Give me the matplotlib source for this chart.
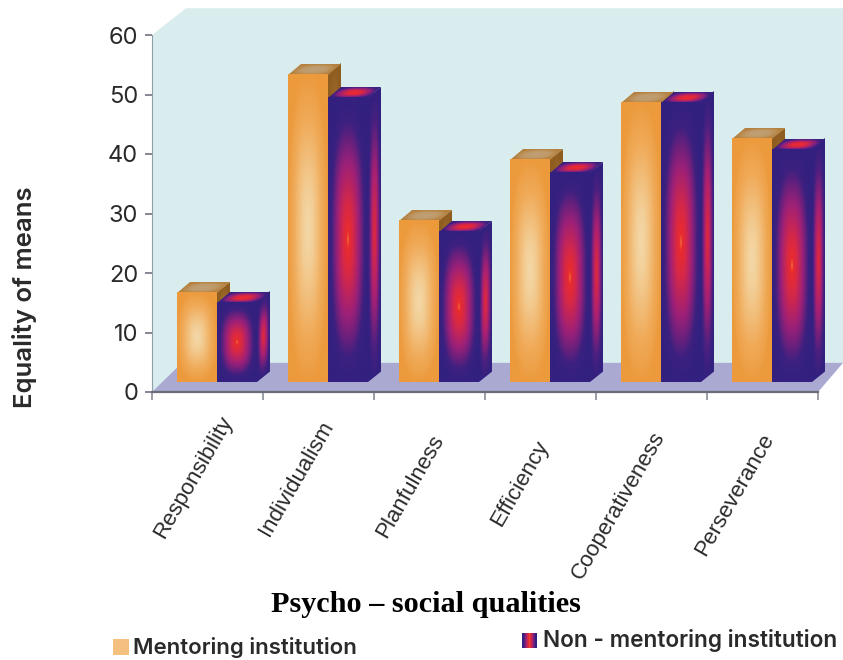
import numpy as np
import matplotlib
matplotlib.use("Agg")
import matplotlib.pyplot as plt
from matplotlib.colors import LinearSegmentedColormap
from matplotlib.patches import Polygon, Rectangle
from matplotlib.transforms import Affine2D

categories = ["Responsibility", "Individualism", "Planfulness",
              "Efficiency", "Cooperativeness", "Perseverance"]
mentoring = [16.6, 53.3, 28.7, 39.0, 48.6, 42.5]
non_mentoring = [15.0, 49.4, 26.9, 36.8, 48.6, 40.7]
y_ticks = [0, 10, 20, 30, 40, 50, 60]

plt.rcParams["font.family"] = ["Inter", "DejaVu Sans"]

W, H = 843, 660
fig = plt.figure(figsize=(W / 100, H / 100), dpi=100)
ax = fig.add_axes([152 / W, (H - 392) / H, 666 / W, 357 / H])
ax.patch.set_visible(False)

# gradients run from a face's edge (first colour) to its centre (last colour)
cm_orange = LinearSegmentedColormap.from_list(
    "o", [(0, "#ec9a3c"), (0.35, "#f0aa58"), (0.8, "#f3cf98"), (1, "#f3d8a8")])
cm_purple = LinearSegmentedColormap.from_list(
    "p", [(0, "#33207f"), (0.22, "#3c2080"), (0.52, "#9c2078"), (0.78, "#d62848"),
          (0.95, "#ea2c2c"), (1, "#f07a40")])
cm_orange_top = LinearSegmentedColormap.from_list("t", ["#b5813f", "#bf9a6a", "#c0a078"])
cm_orange_side = LinearSegmentedColormap.from_list("s", ["#8f5d20", "#a87430", "#b07c30"])
cm_purple_top = LinearSegmentedColormap.from_list(
    "pt", [(0, "#3a2080"), (0.3, "#8a2080"), (0.7, "#e0283c"), (1, "#ee2a30")])
cm_purple_side = LinearSegmentedColormap.from_list(
    "ps", [(0, "#33207f"), (0.25, "#4a2080"), (0.6, "#a82074"), (1, "#e62a34")])

BASE = 1.6       # floor level under the front faces
BAR_W = 0.36
GAP = 0.225
DX, DY = 0.117, 1.75
n = 200
u, v = np.meshgrid(np.linspace(-1, 1, n), np.linspace(-1, 1, n))
P = 2.5
glow = np.clip(1 - (np.abs(u) ** P + np.abs(v) ** P) ** (1 / P), 0, 1) ** 0.85


def face(origin, edge_u, edge_v, cmap, z=3):
    # image of the unit square sheared onto a bar face
    x0, y0 = origin
    m = Affine2D.from_values(edge_u[0], edge_u[1], edge_v[0], edge_v[1], x0, y0)
    im = ax.imshow(glow, extent=(0, 1, 0, 1), origin="lower", cmap=cmap,
                   vmin=0, vmax=1, aspect="auto", interpolation="bilinear", zorder=z)
    im.set_transform(m + ax.transData)
    im.set_clip_on(False)


def bar3d(x, value, front_cmap, side_cmap, top_cmap, z):
    h = value - BASE
    face((x + BAR_W, BASE), (DX, DY), (0, h), side_cmap, z=z)
    face((x, value), (BAR_W, 0), (DX, DY), top_cmap, z=z)
    face((x, BASE), (BAR_W, 0), (0, h), front_cmap, z=z + 0.1)


# back wall and floor
wall = Polygon([(0, 0), (0, 60), (0.306, 64.5), (6.225, 64.5), (6.225, 4.9), (6, 0)],
               closed=True, fc="#d9edee", ec="none", zorder=0, clip_on=False)
floor = Polygon([(0, 0), (0.27, 4.9), (6.225, 4.9), (6, 0)],
                closed=True, fc="#a9a9d2", ec="none", zorder=1, clip_on=False)
ax.add_patch(wall)
ax.add_patch(floor)

for i, (a, b) in enumerate(zip(mentoring, non_mentoring)):
    x = i + GAP
    bar3d(x, a, cm_orange, cm_orange_side, cm_orange_top, 3 + i)
    bar3d(x + BAR_W, b, cm_purple, cm_purple_side, cm_purple_top, 3.3 + i)

ax.set_xlim(0, 6)
ax.set_ylim(0, 60)
ax.set_yticks(y_ticks)
ax.set_xticks(range(7))
ax.set_xticklabels([])
ax.tick_params(axis="y", labelsize=17, length=5, width=1.2, color="#6f7280",
               labelcolor="#2a2a2a", pad=5)
ax.tick_params(axis="x", length=6, width=1.2, color="#8a8d96")
for s in ["top", "right"]:
    ax.spines[s].set_visible(False)
ax.spines["left"].set_color("#8fa0a8")
ax.spines["bottom"].set_color("#6a6c78")
ax.spines["bottom"].set_linewidth(1.6)

# slanted category names hang below the axis, each with its own nudge
name_nudge = [(8, -15), (1, -18), (0.5, -28), (-4, -32), (0, -26), (-2, -27)]
for i, name in enumerate(categories):
    ax.annotate(name, xy=(i + 0.5, 0), xytext=name_nudge[i], textcoords="offset points",
                rotation=60, ha="right", va="top", rotation_mode="anchor",
                family="Liberation Sans", fontsize=16, color="#2a2a2a")

fig.text(25 / W, 1 - 297 / H, "Equality of means", rotation=90, ha="center", va="center",
         fontsize=18.5, fontweight="semibold", color="#2a2a2a")
fig.text(426 / W, 1 - 605 / H, "Psycho – social qualities", ha="center", va="center",
         family="Liberation Serif", fontsize=21.8, fontweight="bold", color="black")

# legend keys and entries
fig.add_artist(Rectangle((113 / W, 1 - 655 / H), 16 / W, 16 / H, transform=fig.transFigure,
                         fc="#f3c07f", ec="none"))
fig.text(133 / W, 1 - 647 / H, "Mentoring institution", ha="left", va="center",
         fontsize=16, fontweight="semibold", color="#2a2a2a")
key = fig.add_axes([522 / W, 1 - 648 / H, 15 / W, 15 / H])
key.imshow(1 - np.abs(np.linspace(-1, 1, 30))[None, :], cmap=cm_purple, aspect="auto",
           vmin=0, vmax=1)
key.axis("off")
fig.text(543 / W, 1 - 641 / H, "Non - mentoring institution", ha="left", va="center",
         fontsize=16.3, fontweight="semibold", color="#2a2a2a")

fig.savefig("out.png", dpi=100)
